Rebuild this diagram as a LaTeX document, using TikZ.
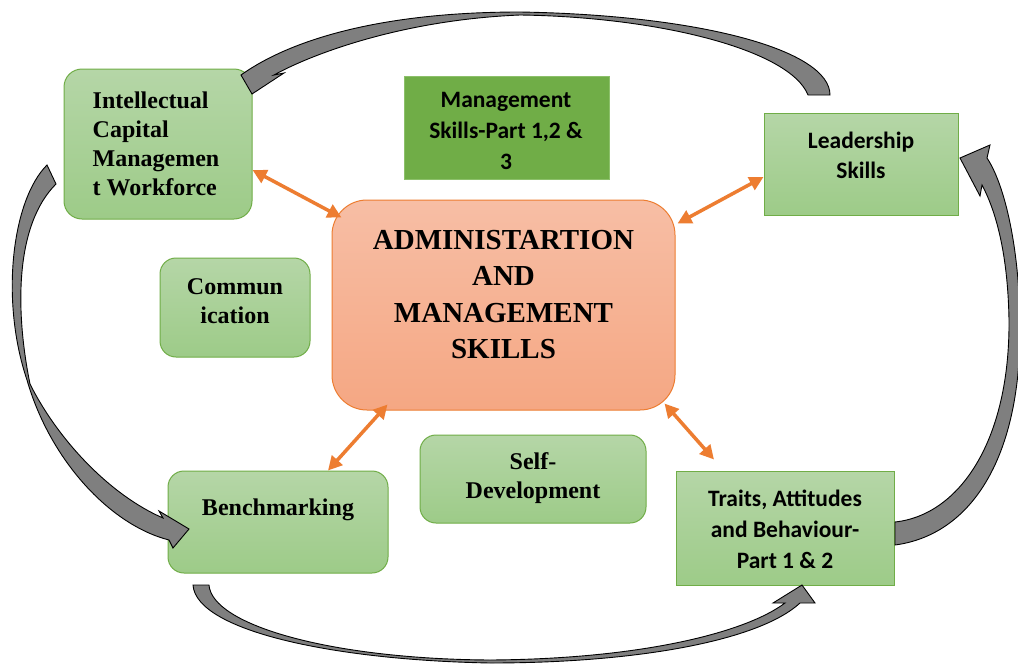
\documentclass[tikz,border=0pt]{standalone}
\usepackage{fontspec}
\setmainfont{Liberation Serif}
\newfontfamily\calibrish{Carlito}
\usetikzlibrary{arrows.meta,calc}

\definecolor{boxtop}{RGB}{181,214,167}
\definecolor{boxbot}{RGB}{157,203,136}
\definecolor{boxline}{RGB}{112,173,71}
\definecolor{mgmtfill}{RGB}{112,173,71}
\definecolor{mgmtline}{RGB}{140,192,106}
\definecolor{coretop}{RGB}{247,190,165}
\definecolor{corebot}{RGB}{245,167,131}
\definecolor{coreline}{RGB}{237,125,49}
\definecolor{linkorange}{RGB}{237,125,49}
\definecolor{loopgray}{RGB}{127,127,127}

\tikzset{
  greenbox/.style={draw=boxline, line width=1pt, top color=boxtop, bottom color=boxbot,
    rounded corners=16pt, inner sep=0pt},
  greenrect/.style={draw=boxline, line width=1pt, top color=boxtop, bottom color=boxbot,
    inner sep=0pt},
  mgmtbox/.style={draw=mgmtline, line width=1pt, fill=mgmtfill, inner sep=0pt},
  corebox/.style={draw=coreline, line width=1pt, top color=coretop, bottom color=corebot,
    rounded corners=35pt, inner sep=0pt},
  seriftxt/.style={inner sep=0pt, font=\fontsize{24}{29}\selectfont\bfseries},
  sanstxt/.style={inner sep=0pt, align=center, font=\calibrish\fontsize{23.5}{31}\selectfont\bfseries},
  coretxt/.style={inner sep=0pt, align=center, font=\fontsize{29}{36.5}\selectfont\bfseries},
  linkarrow/.style={draw=linkorange, line width=3.5pt,
    {Triangle[length=14pt,width=14pt]}-{Triangle[length=14pt,width=14pt]}},
  loopshape/.style={fill=loopgray, draw=black, line width=0.9pt, line join=miter},
}

\begin{document}
\begin{tikzpicture}[x=1pt,y=-1pt]
\useasboundingbox (0,0) rectangle (1018,664);
\fill[white] (0,0) rectangle (1018,664);

% boxes
\node[greenbox, minimum width=188pt, minimum height=150pt, rounded corners=18pt] (intel) at (158,144) {};
\node[mgmtbox, minimum width=205pt, minimum height=103pt] (mgmt) at (506.5,127.5) {};
\node[greenrect, minimum width=194pt, minimum height=102pt] (lead) at (861,164) {};
\node[corebox, minimum width=343pt, minimum height=210pt] (core) at (503.5,305) {};
\node[greenbox, minimum width=150pt, minimum height=99pt] (comm) at (235,307.5) {};
\node[greenbox, minimum width=226pt, minimum height=88pt] (self) at (533,479) {};
\node[greenbox, minimum width=220pt, minimum height=102pt] (bench) at (278,522) {};
\node[greenrect, minimum width=218pt, minimum height=114pt] (traits) at (785,528) {};

% box texts
\node[seriftxt, align=left] (inteltxt) at (156,144) {Intellectual\\Capital\\Managemen\\t Workforce};
\node[sanstxt] (mgmttxt) at (506,131) {Management\\Skills-Part 1,2 \&\\3};
\node[sanstxt, font=\calibrish\fontsize{23.5}{30}\selectfont\bfseries] (leadtxt) at (861,155) {Leadership\\Skills};
\node[coretxt] (coretext) at (503.5,294.5) {ADMINISTARTION\\AND\\MANAGEMENT\\SKILLS};
\node[seriftxt, align=center] (commtxt) at (235,301.5) {Commun\\ication};
\node[seriftxt, align=center] (selftxt) at (533,478.5) {Self-\\Development};
\node[seriftxt, align=center] (benchtxt) at (278,510) {Benchmarking};
\node[sanstxt] (traitstxt) at (785,529.5) {Traits, Attitudes\\and Behaviour-\\Part 1 \& 2};

% two-way links to the central box
\draw[linkarrow] ($(intel.east)+(0,26)$) -- ($(core.north west)+(10,18)$);
\draw[linkarrow] ($(lead.west)+(0,13)$) -- ($(core.north east)+(2,24)$);
\draw[linkarrow] ($(core.south west)+(56,-6)$) -- ($(bench.north)+(50,0)$);
\draw[linkarrow] ($(core.south east)+(-11,-7)$) -- ($(traits.north)+(-71,-11)$);

% outer cycle of curved block arrows
% Leadership -> Intellectual Capital (over the top)
\draw[loopshape] (808,95) -- (830,95)
  .. controls (830,50) and (700,15) .. (520,12)
  .. controls (380,12) and (290,40) .. (241,75)
  -- (252,94) -- (284,73) -- (274,75)
  .. controls (310,55) and (400,20) .. (520,15)
  .. controls (660,17) and (790,50) .. (808,95) -- cycle;
% Intellectual Capital -> Benchmarking (down the left)
\draw[loopshape] (56,184) -- (47,165)
  .. controls (12,200) and (0,300) .. (27,380)
  .. controls (50,460) and (110,525) .. (169,540)
  -- (173,548) -- (189,529) -- (159,511) -- (163,518)
  .. controls (110,495) and (58,440) .. (30,384)
  .. controls (15,310) and (15,225) .. (56,184) -- cycle;
% Benchmarking -> Traits (along the bottom)
\draw[loopshape] (209,585) -- (193,585)
  .. controls (196,630) and (330,660) .. (490,663)
  .. controls (640,663) and (760,640) .. (800,603)
  -- (815,603) -- (802,585) -- (773,603) -- (785,603)
  .. controls (745,633) and (640,659) .. (490,660)
  .. controls (330,659) and (212,625) .. (209,585) -- cycle;
% Traits -> Leadership (up the right)
\draw[loopshape] (895,522) -- (895,545)
  .. controls (970,535) and (1020,460) .. (1020,330)
  .. controls (1020,250) and (1005,185) .. (987,158)
  -- (990,145) -- (960,158) -- (980,196) -- (982,185)
  .. controls (998,215) and (1008,260) .. (1009,320)
  .. controls (1010,440) and (960,515) .. (895,522) -- cycle;
\end{tikzpicture}
\end{document}
